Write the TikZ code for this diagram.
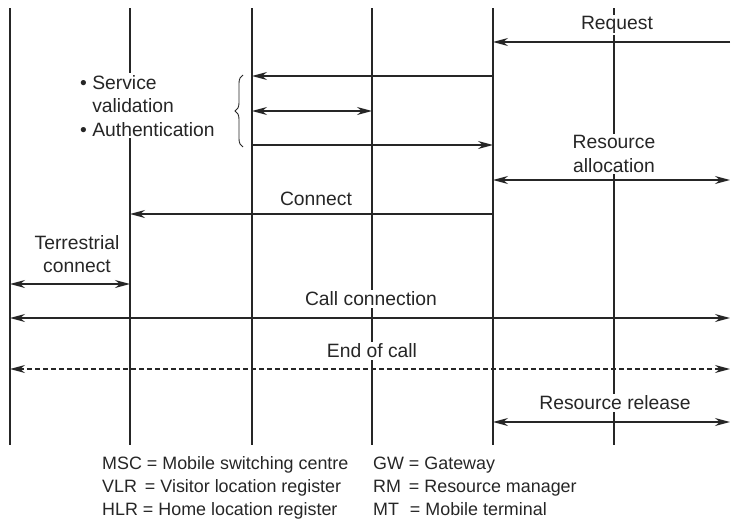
\documentclass[tikz,border=0pt]{standalone}
\usepackage{fontspec}
\setmainfont{Liberation Sans}
\usetikzlibrary{arrows.meta,decorations.pathreplacing}
\begin{document}
\begin{tikzpicture}[x=1pt,y=-1pt,
  life/.style={draw=black!85,line width=1.8pt},
  msg/.style={draw=black!85,line width=1.2pt,-{Stealth[length=15pt,width=8pt]}},
  dmsg/.style={draw=black!85,line width=1.2pt,{Stealth[length=15pt,width=8pt]}-{Stealth[length=15pt,width=8pt]}},
  lbl/.style={fill=white,inner sep=1.5pt,text=black!85,font=\fontsize{19.3}{23.5}\selectfont,align=center},
  leg/.style={inner sep=0pt,text=black!85,font=\fontsize{17.9}{20}\selectfont,anchor=base west}]
\useasboundingbox (0,0) rectangle (732,522);
% lifelines
\foreach \n/\x in {A/10,B/130,C/252,D/372,E/493,F/614}{
  \coordinate (\n t) at (\x,8);
  \coordinate (\n b) at (\x,445);
  \draw[life] (\n t) -- (\n b);
}
\coordinate (Rt) at (730,8);
% messages
\node[lbl] (req) at (617,25) {Request};
\draw[msg] (Rt |- 0,42) -- (Et |- 0,42);
\draw[msg] (Et |- 0,76) -- (Ct |- 0,76);
\draw[dmsg] (Ct |- 0,111) -- (Dt |- 0,111);
\draw[msg] (Ct |- 0,145) -- (Et |- 0,145);
\node[lbl,align=left,anchor=north west,inner sep=2pt] (sv) at (78,73)
  {• Service\\\hphantom{• }validation\\• Authentication};
\draw[black!85,line width=0.9pt,decoration={brace,amplitude=8pt},decorate]
  (243,147) -- (243,75);
\node[lbl] (ra) at (614,154) {Resource\\allocation};
\draw[dmsg] (Et |- 0,180) -- (Rt |- 0,180);
\node[lbl] (con) at (316,199) {Connect};
\draw[msg] (Et |- 0,214) -- (Bt |- 0,214);
\node[lbl] (tc) at (77,254) {Terrestrial\\connect};
\draw[dmsg] (At |- 0,284) -- (Bt |- 0,284);
\node[lbl] (cc) at (371,299) {Call connection};
\draw[dmsg] (At |- 0,318) -- (Rt |- 0,318);
\node[lbl] (eoc) at (372,351) {End of call};
\draw[dmsg,dashed,dash pattern=on 5pt off 3pt] (At |- 0,369) -- (Rt |- 0,369);
\node[lbl] (rr) at (615,403) {Resource release};
\draw[dmsg] (Et |- 0,422) -- (Rt |- 0,422);
% legend
\node[leg] (l1) at (102,469) {MSC = Mobile switching centre};
\node[leg] (l2) at (102,492) {VLR \,= Visitor location register};
\node[leg] (l3) at (102,515) {HLR = Home location register};
\node[leg] (l4) at (373,469) {GW = Gateway};
\node[leg] (l5) at (373,492) {RM \,= Resource manager};
\node[leg] (l6) at (373,515) {MT \,\,= Mobile terminal};
\end{tikzpicture}
\end{document}
